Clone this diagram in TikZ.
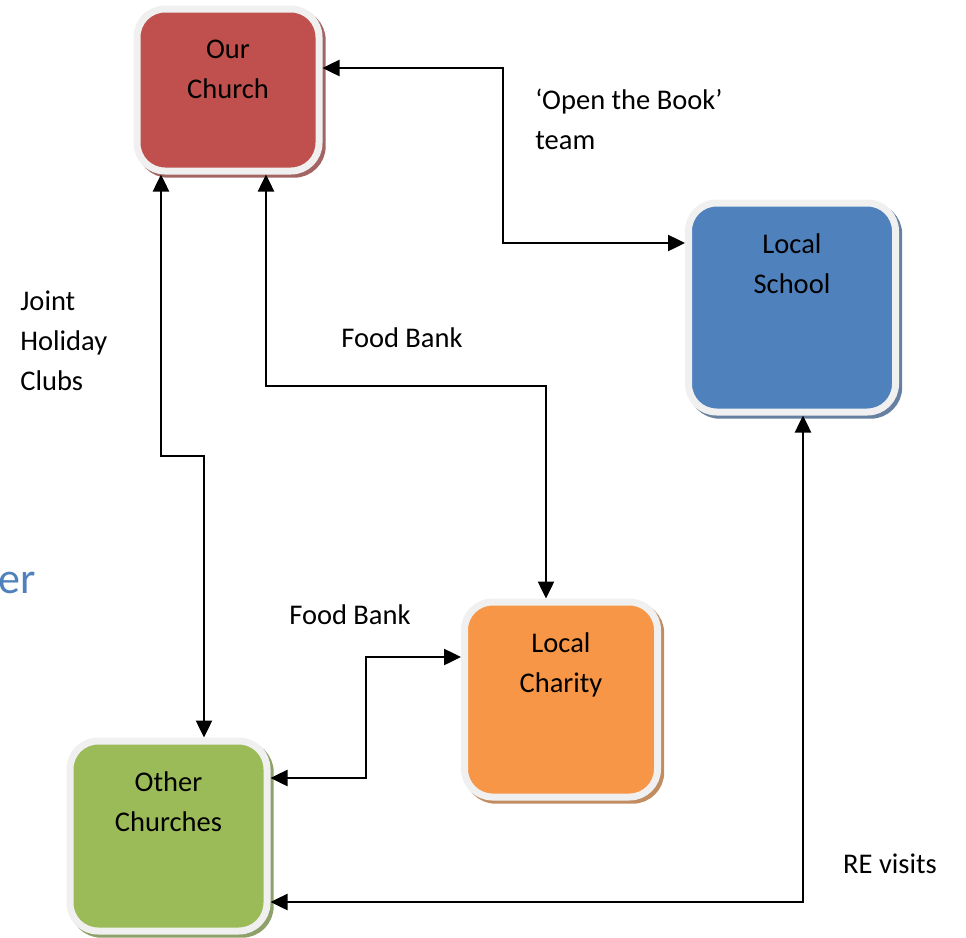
\documentclass[tikz,border=0pt]{standalone}
\usepackage{fontspec}
\setmainfont{Carlito}
\usetikzlibrary{arrows.meta,shadows}

\definecolor{churchred}{HTML}{C0504D}
\definecolor{schoolblue}{HTML}{4F81BD}
\definecolor{charityorange}{HTML}{F79646}
\definecolor{othergreen}{HTML}{9BBB59}
\definecolor{rimgrey}{HTML}{F0F0F0}

\tikzset{
  unit/.style={rectangle, rounded corners=14pt, draw=rimgrey, line width=3.5pt, fill=#1,
    drop shadow={shadow xshift=1.6pt, shadow yshift=-1.6pt, fill=#1!55!gray, draw=#1!55!gray, line width=3.5pt, opacity=1}},
  unitname/.style={anchor=north, inner sep=0pt, align=center, font=\fontsize{14.25}{20}\selectfont, yshift=-17pt},
  link/.style={{Triangle[length=8.5pt,width=8pt]}-{Triangle[length=8.5pt,width=8pt]}, line width=1.25pt, black},
  note/.style={inner sep=0pt, font=\fontsize{14.25}{20}\selectfont, align=left},
}

\begin{document}
\begin{tikzpicture}[x=0.5pt,y=-0.5pt]
                    \useasboundingbox (0,0) rectangle (966,938);
                    % the four boxes
                    \node [unit=churchred, minimum width=91pt, minimum height=81pt, label={[unitname]north:Our\\Church}] (church) at (228,90) {};
                    \node [unit=schoolblue, minimum width=103.5pt, minimum height=104.5pt, label={[unitname]north:Local\\School}] (school) at (792,307.5) {};
                    \node [unit=charityorange, minimum width=96.5pt, minimum height=97.5pt, label={[unitname]north:Local\\Charity}] (charity) at (561,699.5) {};
                    \node [unit=othergreen, minimum width=98.5pt, minimum height=95pt, label={[unitname]north:Other\\Churches}] (others) at (168.5,836) {};
                    \node [anchor=base east, inner sep=0pt, text=schoolblue, font=\fontsize{22}{26}\selectfont] (heading) at (36,593) {er};
                    % links
                    \draw [link] (church.east |- 0,68) -- (503,68) -- (503,243) -- (school.west |- 0,243);
                    \draw [link] (church.south -| 161,0) -- (161,456) -- (204,456) -- (others.north -| 204,0);
                    \draw [link] (church.south -| 266,0) -- (266,386) -- (546,386) -- (charity.north -| 546,0);
                    \draw [link] (others.east |- 0,778) -- (366,778) -- (366,657) -- (charity.west |- 0,657);
                    \draw [link] (school.south -| 803,0) -- (803,902) -- (others.east |- 0,902);
                    % labels
                    \node [note, anchor=north west] (booknote) at (535,89) {‘Open the Book’\\team};
                    \node [note, anchor=north west] (clubnote) at (20,290) {Joint\\Holiday\\Clubs};
                    \node [note, anchor=base] (foodnote) at (402,347) {Food Bank};
                    \node [note, anchor=base] (foodnotetwo) at (350,624) {Food Bank};
                    \node [note, anchor=base] (visitnote) at (890,873) {RE visits};
                \end{tikzpicture}
\end{document}
